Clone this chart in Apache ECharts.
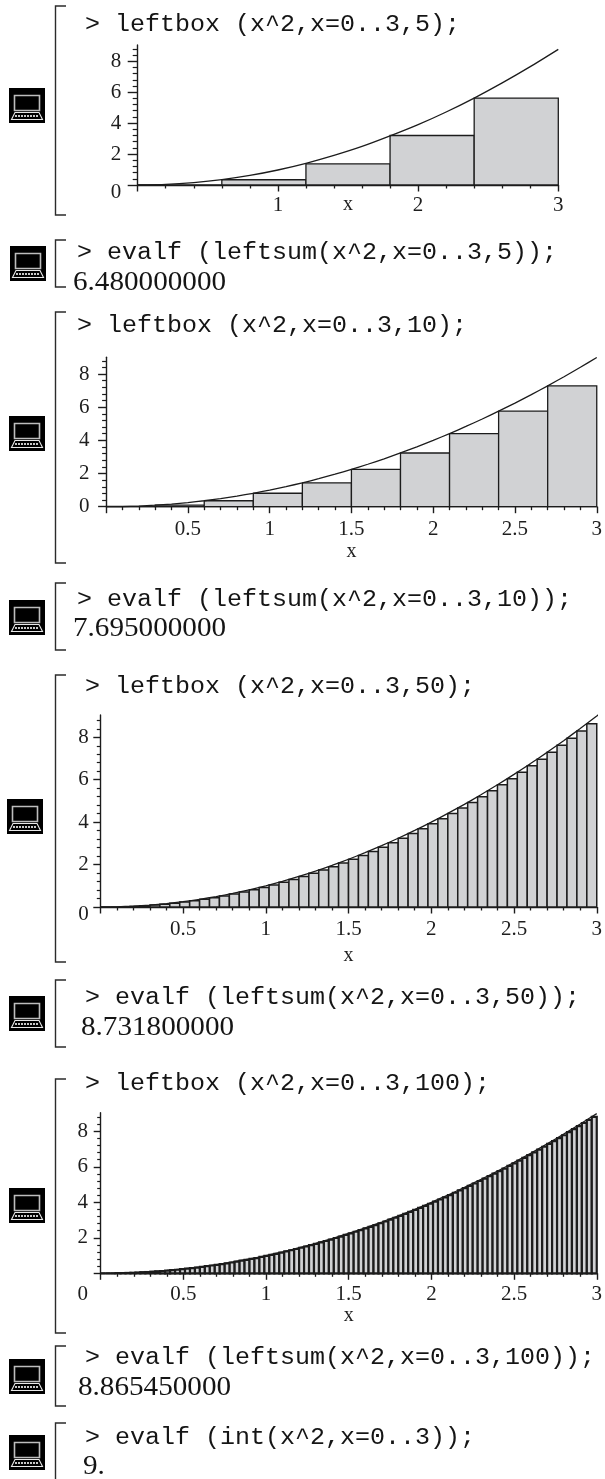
<!DOCTYPE html>
<html>
<head>
<meta charset="utf-8">
<script src="https://cdn.jsdelivr.net/npm/echarts@6/dist/echarts.min.js"></script>
<style>
html,body{margin:0;padding:0;background:#fff;overflow:hidden}
#main{width:605px;height:1479px;filter:blur(0.3px)}
</style>
</head>
<body>
<div id="main"></div>
<script>
// ---------- data ----------
const curveX = [0,0.1,0.2,0.3,0.4,0.5,0.6,0.7,0.8,0.9,1,1.1,1.2,1.3,1.4,1.5,1.6,1.7,1.8,1.9,2,2.1,2.2,2.3,2.4,2.5,2.6,2.7,2.8,2.9,3];
const curveY = [0,0.01,0.04,0.09,0.16,0.25,0.36,0.49,0.64,0.81,1,1.21,1.44,1.69,1.96,2.25,2.56,2.89,3.24,3.61,4,4.41,4.84,5.29,5.76,6.25,6.76,7.29,7.84,8.41,9];
const curve1X = [0,0.2,0.4,0.6,0.8,1,1.2,1.4,1.6,1.8,2,2.2,2.4,2.6,2.8,3];
const curve1Y = [0,0.04,0.16,0.35,0.62,0.97,1.40,1.91,2.49,3.17,3.90,4.72,5.62,6.60,7.65,8.77];
const curve3TailX = [3.03];
const curve3TailY = [9.18];

const bars5 = [0,0.34,1.37,3.2,5.62];
const bars10 = [0,0.09,0.36,0.81,1.44,2.25,3.24,4.41,5.76,7.29];
const bars50 = [0,0,0.01,0.03,0.06,0.09,0.13,0.18,0.23,0.29,0.36,0.44,0.52,0.61,0.71,0.81,0.92,1.04,1.17,1.30,1.44,1.59,1.74,1.90,2.07,2.25,2.43,2.62,2.82,3.03,3.24,3.46,3.69,3.92,4.16,4.41,4.67,4.93,5.20,5.48,5.76,6.05,6.35,6.66,6.97,7.29,7.62,7.95,8.29,8.64];
const bars100 = [0,0,0,0.01,0.01,0.02,0.03,0.04,0.06,0.07,0.09,0.11,0.13,0.15,0.18,0.20,0.23,0.26,0.29,0.32,0.36,0.40,0.44,0.48,0.52,0.56,0.61,0.66,0.71,0.76,0.81,0.86,0.92,0.98,1.04,1.10,1.17,1.23,1.30,1.37,1.44,1.51,1.59,1.66,1.74,1.82,1.90,1.99,2.07,2.16,2.25,2.34,2.43,2.53,2.62,2.72,2.82,2.92,3.03,3.13,3.24,3.35,3.46,3.57,3.69,3.80,3.92,4.04,4.16,4.28,4.41,4.54,4.67,4.80,4.93,5.06,5.20,5.34,5.48,5.62,5.76,5.90,6.05,6.20,6.35,6.50,6.66,6.81,6.97,7.13,7.29,7.45,7.62,7.78,7.95,8.12,8.29,8.47,8.64,8.82];

const yMajor = [0,2,4,6,8];
const yMajorNoZeroLabel = [2,4,6,8];
const yMinor = [0.4,0.8,1.2,1.6,2.4,2.8,3.2,3.6,4.4,4.8,5.2,5.6,6.4,6.8,7.2,7.6,8.4,8.8];
const xMajor1 = [0,1,2,3];
const xLabels1 = [1,2,3];
const xMinor1 = [0.2,0.4,0.6,0.8,1.2,1.4,1.6,1.8,2.2,2.4,2.6,2.8];
const xMajor = [0,0.5,1,1.5,2,2.5,3];
const xLabels = [0.5,1,1.5,2,2.5,3];
const xLabels4 = [0,0.5,1,1.5,2,2.5,3];
const xMinor = [0.1,0.2,0.3,0.4,0.6,0.7,0.8,0.9,1.1,1.2,1.3,1.4,1.6,1.7,1.8,1.9,2.1,2.2,2.3,2.4,2.6,2.7,2.8,2.9];

const codeLines = [
  '> leftbox (x^2,x=0..3,5);',
  '> evalf (leftsum(x^2,x=0..3,5));',
  '> leftbox (x^2,x=0..3,10);',
  '> evalf (leftsum(x^2,x=0..3,10));',
  '> leftbox (x^2,x=0..3,50);',
  '> evalf (leftsum(x^2,x=0..3,50));',
  '> leftbox (x^2,x=0..3,100);',
  '> evalf (leftsum(x^2,x=0..3,100));',
  '> evalf (int(x^2,x=0..3));'
];
const resultLines = ['6.480000000','7.695000000','8.731800000','8.865450000','9.'];

// ---------- layout ----------
const ink = '#1c1c1c';
const labelInk = '#1e1e1e';
const serif = '"Liberation Serif", serif';
const panels = [
  {left:137.7,right:558.3,top:45,y0:185,ymax:9.05,bars:bars5,step:0.6,cx:curve1X,cy:curve1Y,
   xMaj:xMajor1,xLab:xLabels1,xMin:xMinor1,yLab:yMajor,yMaj:10,yMin:5,xMajL:6.5,xMinL:3.5,lm:16.5,xm:10,gap:10,zeroY:true},
  {left:106.1,right:602.6,top:357.3,y0:506.7,ymax:9.01,bars:bars10,step:0.3,cx:curveX,cy:curveY,
   xMaj:xMajor,xLab:xLabels,xMin:xMinor,yLab:yMajor,yMaj:8,yMin:4,xMajL:6.5,xMinL:3.5,lm:16.5,xm:12.3,gap:35,zeroY:false},
  {left:100.3,right:599.5,top:715,y0:907,ymax:9.05,bars:bars50,step:0.06,cx:curveX.concat(curve3TailX),cy:curveY.concat(curve3TailY),
   xMaj:xMajor,xLab:xLabels,xMin:xMinor,yLab:yMajor,yMaj:7,yMin:3.5,xMajL:6.5,xMinL:3.5,lm:11.6,xm:12.3,gap:39,zeroY:true},
  {left:100.7,right:601,top:1112.7,y0:1273.3,ymax:9.05,bars:bars100,step:0.03,cx:curveX,cy:curveY,
   xMaj:xMajor,xLab:xLabels4,xMin:xMinor,yLab:yMajorNoZeroLabel,yMaj:7,yMin:3.5,xMajL:6.5,xMinL:3.5,lm:12.7,xm:10.4,gap:32.5,zeroX:true}
];

const grid=[],xAxis=[],yAxis=[],series=[];
panels.forEach((p,k)=>{
  grid.push({left:p.left,top:p.top,width:p.right-p.left,height:p.y0-p.top});
  const ax = k*2, ay = k*2;
  xAxis.push({type:'value',gridIndex:k,position:'bottom',min:0,max:3,
    name:'x',nameLocation:'middle',nameGap:p.gap,nameMoveOverlap:false,
    nameTextStyle:{fontFamily:serif,fontSize:20,color:labelInk},
    splitLine:{show:false},
    axisLine:{show:true,onZero:false,lineStyle:{color:ink,width:1.4}},
    axisTick:{show:true,length:p.xMajL,customValues:p.xMaj,lineStyle:{color:ink,width:1.4}},
    axisLabel:{show:true,customValues:p.xLab,margin:p.xm,color:labelInk,fontFamily:serif,fontSize:21,
      formatter:v=>(p.zeroX&&v===0)?'{z|0}':String(v),
      rich:{z:{fontFamily:serif,fontSize:21,color:labelInk,padding:[0,36,0,0]}}}});
  xAxis.push({type:'value',gridIndex:k,position:'bottom',min:0,max:3,
    splitLine:{show:false},axisLine:{show:false,onZero:false},axisLabel:{show:false},
    axisTick:{show:true,length:p.xMinL,customValues:p.xMin,lineStyle:{color:ink,width:1.3}}});
  yAxis.push({type:'value',gridIndex:k,position:'left',min:0,max:p.ymax,
    splitLine:{show:false},
    axisLine:{show:true,onZero:false,lineStyle:{color:ink,width:1.4}},
    axisTick:{show:true,length:p.yMaj,customValues:yMajor,lineStyle:{color:ink,width:1.4}},
    axisLabel:{show:true,customValues:p.yLab,margin:p.lm,color:labelInk,fontFamily:serif,fontSize:21,
      formatter:v=>(p.zeroY&&v===0)?'{z|0}':String(v),
      rich:{z:{fontFamily:serif,fontSize:21,color:labelInk,padding:[14,0,0,0]}}}});
  yAxis.push({type:'value',gridIndex:k,position:'left',min:0,max:p.ymax,
    splitLine:{show:false},axisLine:{show:false,onZero:false},axisLabel:{show:false},
    axisTick:{show:true,length:p.yMin,customValues:yMinor,lineStyle:{color:ink,width:1.2}}});
  series.push({type:'custom',xAxisIndex:ax,yAxisIndex:ay,clip:false,silent:true,z:2,
    encode:{x:[0,1],y:2},
    data:p.bars.map((h,i)=>[i*p.step,(i+1)*p.step,h]),
    renderItem:(params,api)=>{
      const a=api.coord([api.value(0),0]), b=api.coord([api.value(1),api.value(2)]);
      return {type:'rect',shape:{x:a[0],y:b[1],width:b[0]-a[0],height:a[1]-b[1]},
        style:{fill:'#d1d2d4',stroke:ink,lineWidth:k===3?2.2:(k===2?1.5:1.3)}};
    }});
  series.push({type:'line',xAxisIndex:ax,yAxisIndex:ay,clip:false,silent:true,z:3,
    showSymbol:false,smooth:0.2,lineStyle:{color:ink,width:1.3},
    data:p.cx.map((x,i)=>[x,p.cy[i]])});
});

const gfx=[];
function text(str,x,y,font,scaleX){
  gfx.push({type:'text',x:x,y:y,scaleX:scaleX,silent:true,z:10,
    style:{text:str,font:font,fill:'#151515',verticalAlign:'middle',align:'left'}});
}
const monoFont='23px "Liberation Mono", monospace';
const resFont='27px "Liberation Serif", serif';
[[85,25],[77,253],[77,326],[77,600],[85,687],[85,998],[85,1084],[85,1358],[85,1438]]
  .forEach((q,i)=>text(codeLines[i],q[0],q[1],monoFont,1.087));
[[73,283],[73,629],[81,1028],[78,1388],[83,1467]]
  .forEach((q,i)=>text(resultLines[i],q[0],q[1],resFont,1.08));

[[6,215],[240,287],[312,563],[583,650],[675,962],[980,1047],[1079,1333],[1346,1406],[1423,null]].forEach(b=>{
  const x=55.5,t=b[0],e=b[1];
  const pts=[[66,t],[x,t],[x,e===null?1480:e]];
  if(e!==null)pts.push([66,e]);
  gfx.push({type:'polyline',silent:true,shape:{points:pts},style:{fill:null,stroke:'#2b2b2b',lineWidth:1.4}});
});

[[9,88],[10,246],[9,416],[9,600],[7,799],[9,996],[9,1188],[9,1359],[9,1435]].forEach(q=>{
  gfx.push({type:'group',x:q[0],y:q[1],silent:true,children:[
    {type:'rect',shape:{x:0,y:0,width:36,height:35},style:{fill:'#000'}},
    {type:'rect',shape:{x:5.5,y:7.5,width:25,height:15},style:{fill:'#000',stroke:'#bdbdbd',lineWidth:1.6}},
    {type:'polygon',shape:{points:[[6,24.5],[30,24.5],[33.5,31.5],[2.5,31.5]]},style:{fill:'#000',stroke:'#e8e8e8',lineWidth:1.1}},
    {type:'line',shape:{x1:6,y1:28,x2:30,y2:28},style:{stroke:'#c8c8c8',lineWidth:2,lineDash:[2,1]}}
  ]});
});

const chart=echarts.init(document.getElementById('main'),null,{renderer:'canvas',width:605,height:1479});
chart.setOption({animation:false,backgroundColor:'#fff',grid,xAxis,yAxis,series,graphic:gfx});
</script>
</body>
</html>
